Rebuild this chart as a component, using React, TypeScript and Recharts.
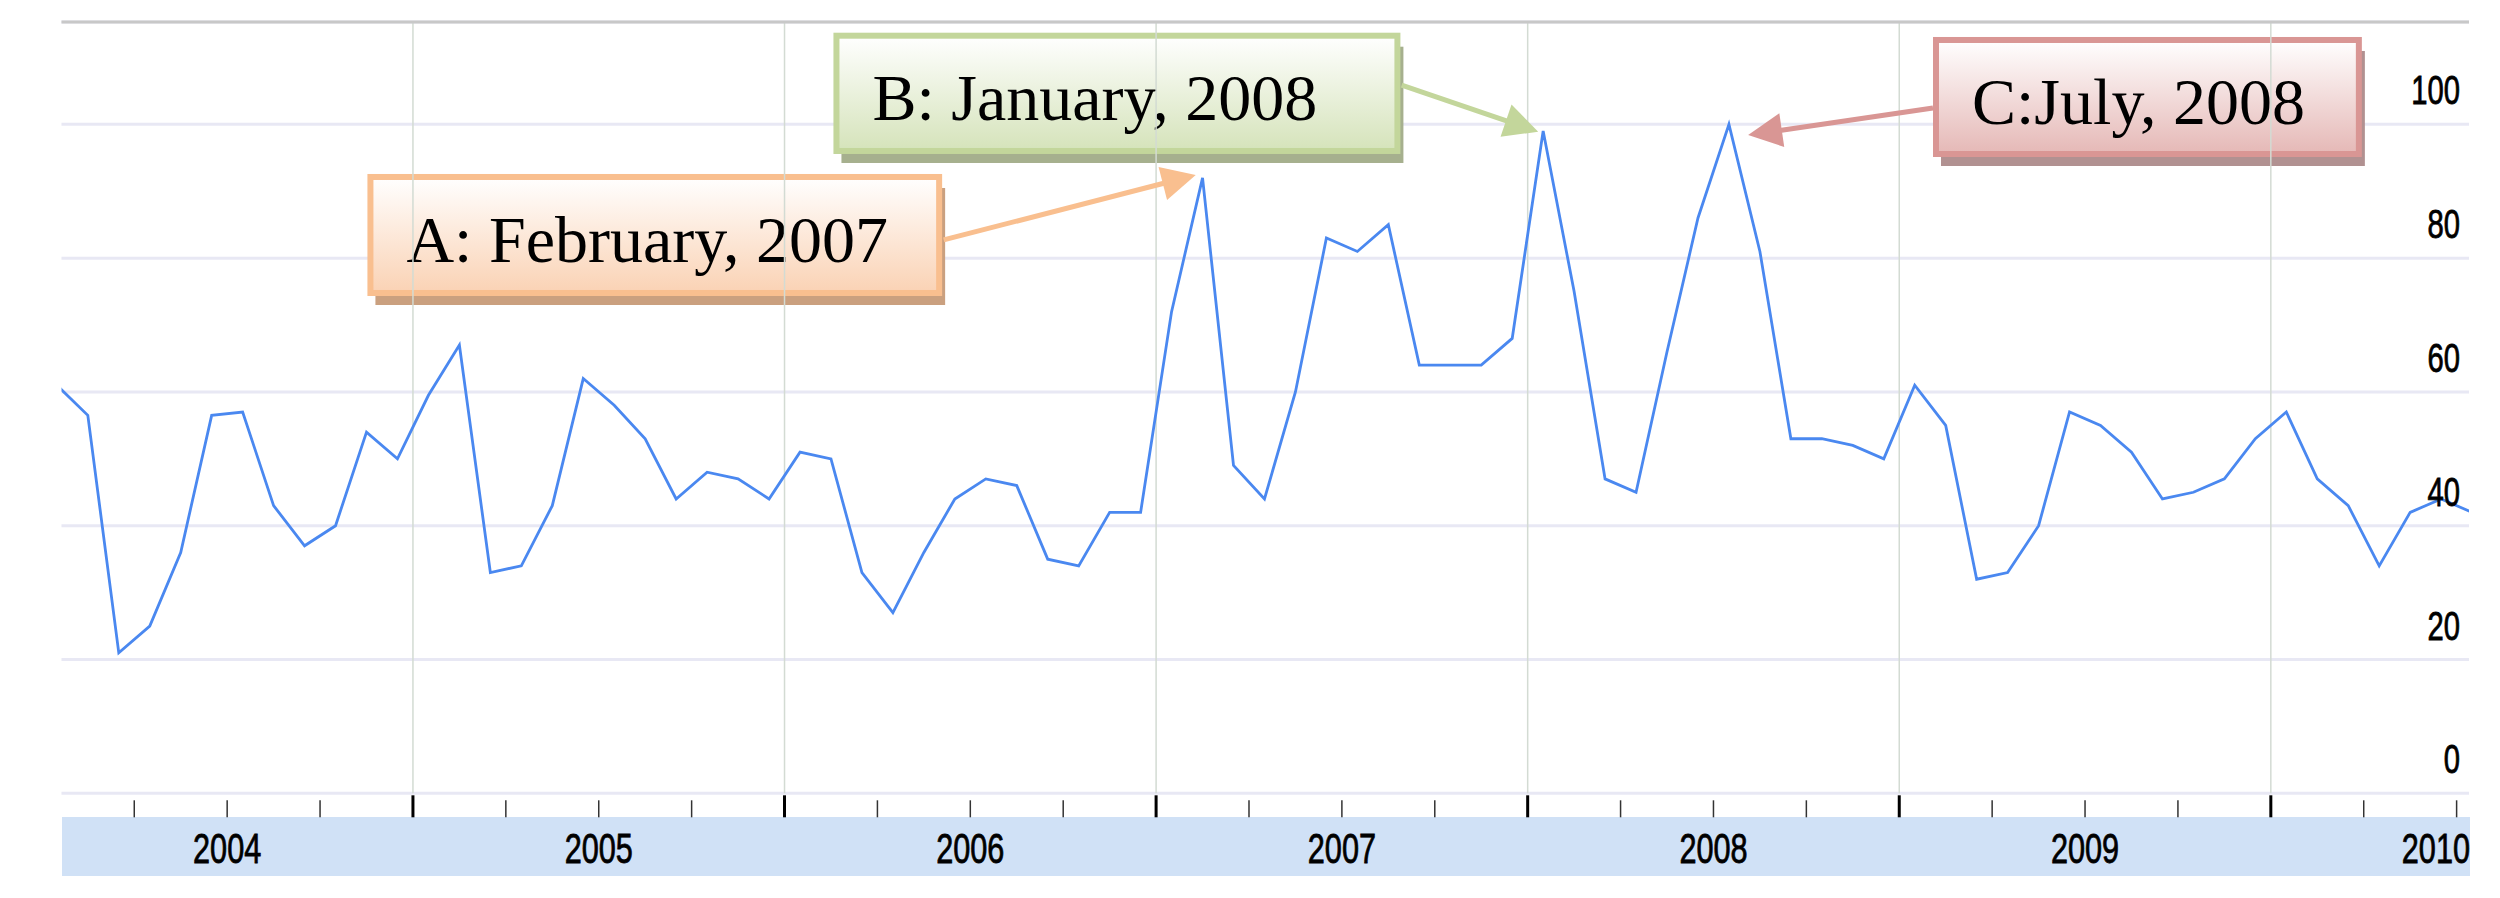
import React from "react";
import { LineChart, Line, XAxis, YAxis, CartesianGrid, ReferenceLine, ReferenceArea } from "recharts";

// monthly search interest, Jan 2004 .. Jul 2010
const interest = [
  61, 56.5, 21, 25, 36, 56.5, 57, 43, 37, 40, 54, 50,
  59.5, 67, 33, 34, 43, 62, 58, 53, 44, 48, 47, 44,
  51, 50, 33, 27, 36, 44, 47, 46, 35, 34, 42, 42,
  72, 92, 49, 44, 60, 83, 81, 85, 64, 64, 64, 68,
  99, 75, 47, 45, 66, 86, 100, 81, 53, 53, 52, 50,
  61, 55, 32, 33, 40, 57, 55, 51, 44, 45, 47, 53,
  57, 47, 43, 34, 42, 44, 42,
];
const years = ["2004", "2005", "2006", "2007", "2008", "2009", "2010"];
const valueTicks = [0, 20, 40, 60, 80, 100];

const months = interest.map((_, i) => `${2004 + Math.floor(i / 12)}-${String((i % 12) + 1).padStart(2, "0")}`);
// t = months since Jan 1 2004, points sit mid-month
const chartData = interest.map((v, i) => ({ t: i + 0.5, month: months[i], value: v }));

const quarterTicks: number[] = [];
for (let q = 3; q <= 78; q += 3) quarterTicks.push(q);
const yearStarts = years.slice(1).map((_, i) => (i + 1) * 12);

const callouts = [
  { id: "a", text: "A: February, 2007", x1: 10.53, x2: 29.09, y1: 92.58, y2: 74.34,
    from: { x: 29.14, y: 82.72 }, to: { x: 37.28, y: 92.43 },
    border: "#f9bf8f", fill: "#fad2b4", shadow: "#caa07f" },
  { id: "b", text: "B: January, 2008", x1: 25.58, x2: 43.89, y1: 113.7, y2: 95.57,
    from: { x: 43.93, y: 105.88 }, to: { x: 48.34, y: 98.9 },
    border: "#c3d69b", fill: "#d5e3ba", shadow: "#a6b08e" },
  { id: "c", text: "C:July, 2008", x1: 61.09, x2: 74.94, y1: 113.06, y2: 95.12,
    from: { x: 61.09, y: 102.44 }, to: { x: 55.12, y: 98.4 },
    border: "#d99694", fill: "#e5b8b6", shadow: "#b19191" },
];

const PLOT_RIGHT = 2469;
const numFont = "'Liberation Sans', Arial, sans-serif";

const MonthTick = (props: any) => {
  const { x, y, payload } = props;
  const v = payload.value;
  const major = v % 12 === 0;
  const label = v % 12 === 6 ? years[(v - 6) / 12] : null;
  let lx = x;
  let anchor = "middle";
  if (label && x + 36 > PLOT_RIGHT) {
    lx = PLOT_RIGHT + 1;
    anchor = "end";
  }
  return (
    <g>
      <line x1={x} x2={x} y1={y + (major ? 2 : 7)} y2={y + 24}
        stroke={major ? "#000" : "#333"} strokeWidth={major ? 3 : 1.5} />
      {label && (
        <g transform={`translate(${lx},${y + 70})`}>
          <text transform="scale(0.73,1)" textAnchor={anchor} fontFamily={numFont} fontSize={42}
            stroke="#000" strokeWidth={0.8} fill="#000">
            {label}
          </text>
        </g>
      )}
    </g>
  );
};

const ValueTick = (props: any) => {
  const { x, y, payload } = props;
  return (
    <g transform={`translate(${x - 9},${y - 20})`}>
      <text transform="scale(0.73,1)" textAnchor="end" fontFamily={numFont} fontSize={40}
        stroke="#000" strokeWidth={0.8} fill="#000">
        {payload.value}
      </text>
    </g>
  );
};

const boxShape = (c: any) => (props: any) => {
  const { x, y, width, height } = props;
  const gid = `grad-${c.id}`;
  return (
    <g>
      <defs>
        <linearGradient id={gid} x1="0" y1="0" x2="0" y2="1">
          <stop offset="0%" stopColor="#ffffff" />
          <stop offset="100%" stopColor={c.fill} />
        </linearGradient>
      </defs>
      <rect x={x + 8} y={y + 14} width={width - 5} height={height - 5} fill={c.shadow} />
      <rect x={x + 3} y={y + 3} width={width - 6} height={height - 6} fill={`url(#${gid})`} stroke={c.border} strokeWidth={6} />
      <text x={x + 39} y={y + height / 2 + 27} fontFamily="'Liberation Serif', 'Times New Roman', serif" fontSize={66} fill="#000">
        {c.text}
      </text>
    </g>
  );
};

const arrowShape = (color: string) => (props: any) => {
  const { x1, y1, x2, y2 } = props;
  const dx = x2 - x1;
  const dy = y2 - y1;
  const len = Math.hypot(dx, dy) || 1;
  const ux = dx / len;
  const uy = dy / len;
  const hl = 34;
  const hw = 17;
  const bx = x2 - ux * hl;
  const by = y2 - uy * hl;
  const pts = `${x2},${y2} ${bx - uy * hw},${by + ux * hw} ${bx + uy * hw},${by - ux * hw}`;
  return (
    <g>
      <line x1={x1} y1={y1} x2={bx + ux * 2} y2={by + uy * 2} stroke={color} strokeWidth={5} />
      <polygon points={pts} fill={color} />
    </g>
  );
};

const App = () => {
  return (
    <div style={{ position: "absolute", left: 0, top: 0, width: 2500, height: 898, background: "#fff" }}>
      <div style={{ position: "absolute", left: 61.5, top: 817, width: 2408.5, height: 59, background: "#d0e1f6" }} />
      <div style={{ position: "absolute", left: 0, top: 0 }}>
        <LineChart width={2500} height={898} data={chartData}
          margin={{ top: 22, right: 30, bottom: 103.7, left: 61.5 }}>
          <CartesianGrid vertical={false} stroke="#e8e8f4" strokeWidth={3} />
          <XAxis dataKey="t" type="number" domain={[0.65, 78.4]} allowDataOverflow
            ticks={quarterTicks} interval={0} height={1} tickSize={0} tickMargin={0}
            axisLine={false} tickLine={false} tick={<MonthTick />} />
          <YAxis orientation="right" width={1} domain={[0, 115.3]} allowDataOverflow
            ticks={valueTicks} interval={0} tickSize={0} tickMargin={0}
            axisLine={false} tickLine={false} tick={<ValueTick />} />
          {yearStarts.map((m) => (
            <ReferenceLine key={m} x={m} stroke="#d3dbd3" strokeWidth={1.5} ifOverflow="visible" />
          ))}
          <ReferenceLine y={115.3} stroke="#c8c8c8" strokeWidth={3} ifOverflow="visible" />
          <Line type="linear" dataKey="value" stroke="#4a88f0" strokeWidth={2.8}
            dot={false} activeDot={false} isAnimationActive={false} />
          {callouts.map((c) => (
            <ReferenceArea key={`box-${c.id}`} x1={c.x1} x2={c.x2} y1={c.y1} y2={c.y2}
              ifOverflow="visible" shape={boxShape(c)} />
          ))}
          {callouts.map((c) => (
            <ReferenceLine key={`arrow-${c.id}`} segment={[c.from, c.to]} ifOverflow="visible"
              stroke={c.border} shape={arrowShape(c.border)} />
          ))}
        </LineChart>
      </div>
    </div>
  );
};

export default App;
